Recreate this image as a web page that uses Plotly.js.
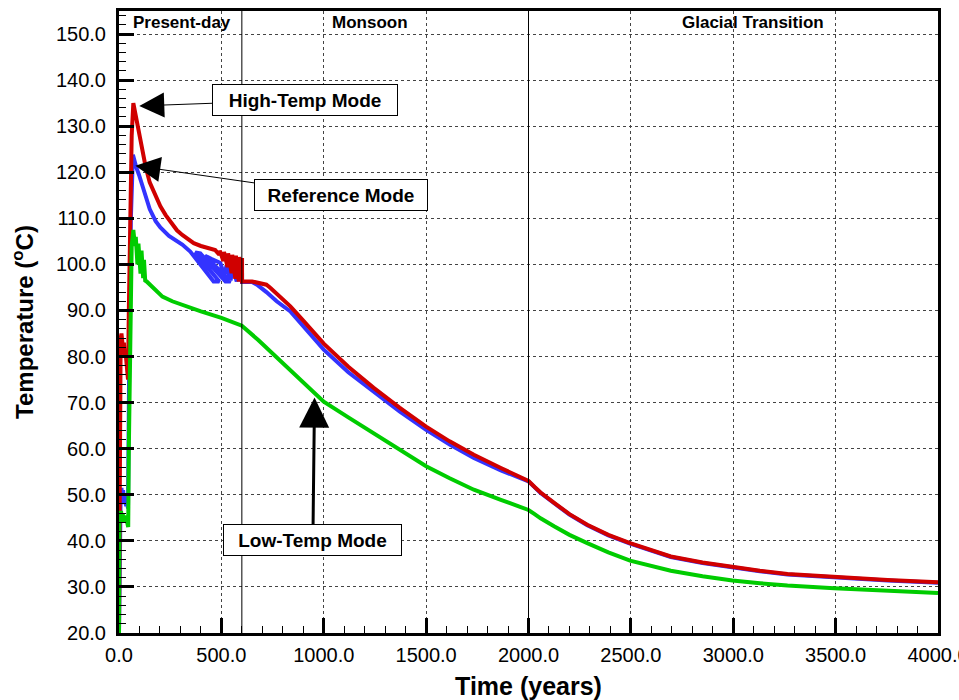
<!DOCTYPE html>
<html>
<head>
<meta charset="utf-8">
<script src="https://cdn.plot.ly/plotly-3.0.1.min.js"></script>
<style>
html,body{margin:0;padding:0;background:#fff;}
#chart{width:959px;height:700px;}
</style>
</head>
<body>
<div id="chart"></div>
<script>
// High-Temp Mode (red)
var highTime = [0,3,8,12,16,20,24,28,32,36,40,44,48,55,62,70,78,88,98,115,130,150,179,202,228,260,283,309,340,365,400,446,470,
  490,492,510,513,530,533,550,553,568,571,585,588,598,601,601,650,690,720,740,770,800,837,900,1000,1120,1244,1370,1500,1615,1733,1865,2000,
  2030,2059,2127,2200,2287,2390,2496,2600,2695,2850,2996,3130,3265,3493,3754,4000];
var highTemp = [20,80,84,85,83,81.5,83,80,81,78,76,75,90,112,128,135,133,130.5,128.5,124.5,121.2,117.8,114.6,112.6,110.7,108.6,107.4,106.4,105.3,104.6,104.0,103.3,103.1,
  102.1,103.0,100.7,102.7,99.4,102.4,98.1,102.1,96.9,101.9,96.3,101.6,96.3,101.4,96.3,96.3,96.0,95.6,94.9,93.6,92.3,90.9,87.8,82.8,77.8,73.2,68.9,64.8,61.6,58.7,55.8,53.0,
  51.7,50.5,48.2,45.8,43.5,41.3,39.5,38.0,36.6,35.3,34.3,33.5,32.8,32.1,31.5,31.0];

// Reference Mode (blue)
var refTime = [0,3,8,12,16,20,25,30,35,40,44,50,58,68,75,85,98,115,130,150,179,202,244,283,309,348,462,490,372,397,520,545,420,450,495,
  515,525,545,555,575,585,598,601,601,650,674,720,770,837,900,1000,1120,1244,1370,1500,1615,1733,1865,2000,
  2030,2059,2127,2200,2287,2390,2496,2600,2695,2850,2996,3130,3265,3493,3754,4000];
var refTemp = [20,48,50,51.5,49,51,48,50,47.5,48.5,47,80,110,123.8,122.5,121,119.4,116.8,114.7,112,109.4,108,106.2,105.0,104.3,102.8,96.3,96.3,102.6,102.4,96.3,96.3,101.9,101.2,100.3,
  97.5,99.8,96.5,99.3,96.3,98.6,96.3,98.1,96.2,96.2,95.6,94.0,92.0,89.8,86.7,81.5,76.6,72.4,68.1,64.1,60.9,58.0,55.3,52.9,
  51.6,50.4,48.1,45.7,43.4,41.2,39.4,37.9,36.5,35.2,34.2,33.4,32.7,32.0,31.4,30.9];

// Low-Temp Mode (green)
var lowTime = [0,2,6,10,14,18,22,26,30,35,40,45,48,55,62,70,74,78,82,90,95,105,110,118,122,128,135,150,180,212,260,309,400,500,593,600,680,756,860,968,1000,
  1120,1244,1370,1500,1615,1733,1865,2000,2030,2059,2127,2200,2287,2390,2496,2600,2695,2850,2996,3130,3265,3493,3754,4000];
var lowTemp = [20,46,45,46.5,44.5,46,44,45.5,44,45,43.5,43,60,90,104,107.5,106,104,106,100,104.5,98,103,97,101,96.5,96.3,95.6,94.2,93.0,92.0,91.2,89.8,88.4,86.9,86.7,83.6,80.4,75.8,71.3,70.2,
  66.8,63.4,59.7,56.2,53.6,51.1,48.9,46.7,45.8,44.9,43.1,41.3,39.5,37.5,35.7,34.5,33.5,32.3,31.4,30.8,30.3,29.7,29.2,28.7];

var periodBounds = [600, 2000];
var periodNames = ["Present-day", "Monsoon", "Glacial Transition"];
var periodLabelX = [310, 1225, 3095];

var FONT = "Liberation Sans, Arial, Helvetica, sans-serif";

var traces = [
  {x: refTime, y: refTemp, mode: "lines", line: {color: "#3333ff", width: 4}, hoverinfo: "skip"},
  {x: highTime, y: highTemp, mode: "lines", line: {color: "#d00000", width: 4}, hoverinfo: "skip"},
  {x: lowTime, y: lowTemp, mode: "lines", line: {color: "#00cc00", width: 4}, hoverinfo: "skip"}
];

var shapes = periodBounds.map(function(b){
  return {type: "line", xref: "x", yref: "paper", x0: b, x1: b, y0: 0, y1: 1, line: {color: "#000", width: 1}};
});

var annotations = [];
periodNames.forEach(function(n, i){
  annotations.push({text: "<b>" + n + "</b>", x: periodLabelX[i], y: 152.6, xref: "x", yref: "y",
    showarrow: false, font: {family: FONT, size: 17, color: "#000"}});
});

// labelled boxes with arrows: box centre (tail) -> tip
var boxes = [
  {text: "High-Temp Mode", cx: 906, cy: 135.7, tip: [99, 134.4], w: 178, aw: 1, as: 5},
  {text: "Reference Mode", cx: 1082, cy: 115.0, tip: [80, 121.4], w: 166, aw: 1, as: 5},
  {text: "Low-Temp Mode", cx: 947, cy: 40.2, tip: [955, 71.1], w: 171, aw: 3, as: 2}
];
boxes.forEach(function(b){
  annotations.push({text: "<b>" + b.text + "</b>", x: b.tip[0], y: b.tip[1], ax: b.cx, ay: b.cy,
    xref: "x", yref: "y", axref: "x", ayref: "y",
    showarrow: true, arrowhead: 2, arrowsize: b.as, arrowwidth: b.aw, arrowcolor: "#000", standoff: 0,
    bgcolor: "#fff", bordercolor: "#000", borderwidth: 1, borderpad: 3,
    width: b.w, height: 24, font: {family: FONT, size: 19, color: "#000"}});
});

var axisCommon = {
  showline: true, linecolor: "#000", linewidth: 3, mirror: true,
  ticks: "inside", ticklen: 15, tickwidth: 3, tickcolor: "#000",
  showgrid: true, gridcolor: "#444", griddash: "dot", gridwidth: 1,
  zeroline: false, tickformat: ".1f", ticklabeloverflow: "allow",
  tickfont: {family: FONT, size: 20, color: "#000"}
};

var layout = {
  width: 959, height: 700,
  margin: {l: 119, r: 21, t: 11, b: 67},
  paper_bgcolor: "#fff", plot_bgcolor: "#fff",
  showlegend: false,
  font: {family: FONT, color: "#000"},
  xaxis: Object.assign({}, axisCommon, {
    range: [0, 4000], dtick: 500, tick0: 0,
    minor: {dtick: 100, ticklen: 7, tickwidth: 1, tickcolor: "#000", showgrid: false, ticks: "inside"},
    ticklabelstandoff: 2,
    title: {text: "<b>Time (years)</b>", font: {family: FONT, size: 25, color: "#000"}, standoff: 14}
  }),
  yaxis: Object.assign({}, axisCommon, {
    range: [20, 155], dtick: 10, tick0: 0,
    minor: {dtick: 2, ticklen: 7, tickwidth: 1, tickcolor: "#000", showgrid: false, ticks: "inside"},
    ticklabelstandoff: 6,
    title: {text: "<b>Temperature (<sup>o</sup>C)</b>", font: {family: FONT, size: 24, color: "#000"}, standoff: 16}
  }),
  shapes: shapes,
  annotations: annotations
};

Plotly.newPlot("chart", traces, layout, {staticPlot: true, displayModeBar: false});
</script>
</body>
</html>
